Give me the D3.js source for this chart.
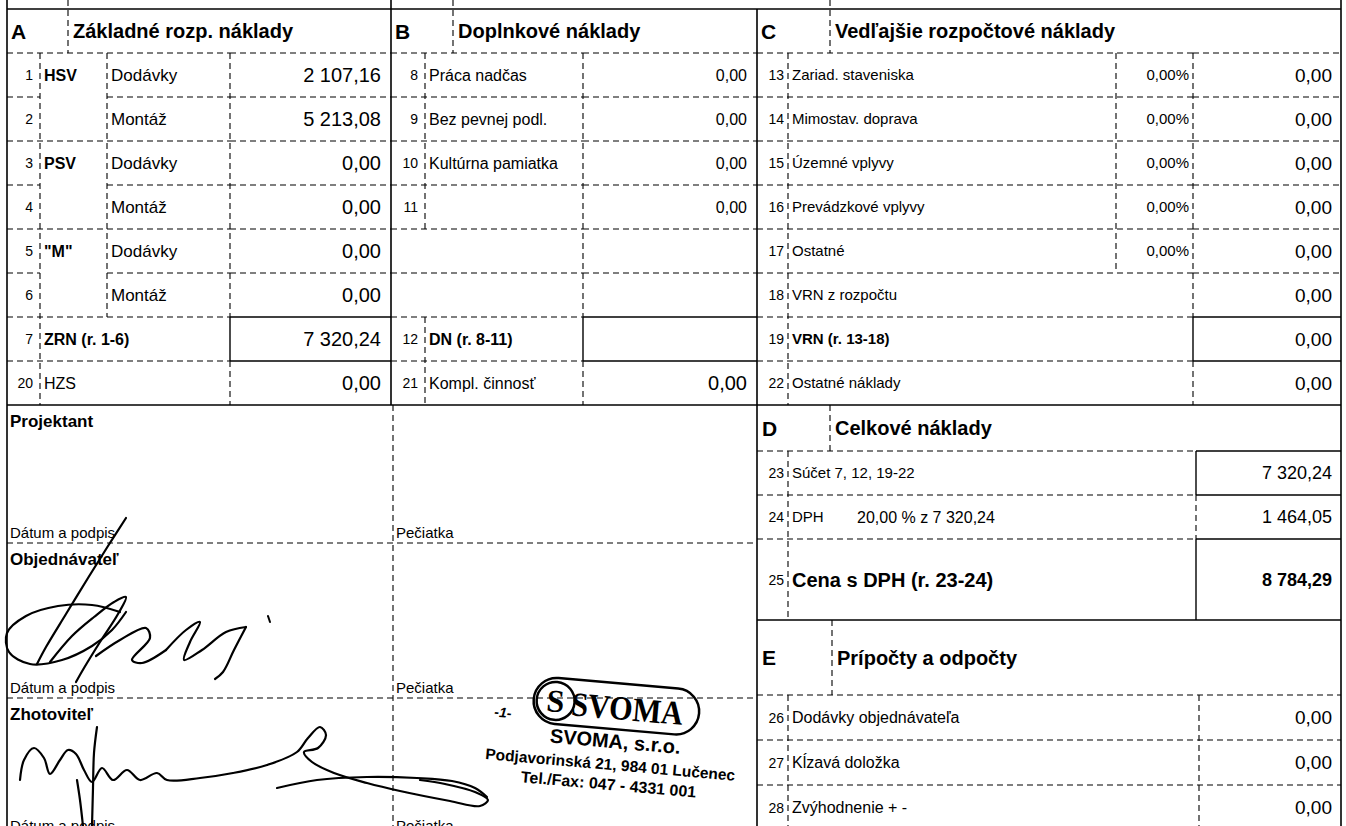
<!DOCTYPE html>
<html>
<head>
<meta charset="utf-8"/>
<script src="https://cdn.jsdelivr.net/npm/d3@7"></script>
<title>Krycí list rozpočtu</title>
<style>
body { margin:0; background:#fff; }
svg { display:block; font-family:"Liberation Sans", Arial, sans-serif; }
</style>
</head>
<body>
<script>
// A - zakladne rozpoctove naklady
var aNums   = ["1","2","3","4","5","6","7","20"];
var aGroups = ["HSV","","PSV","","\"M\"","","ZRN (r. 1-6)","HZS"];
var aLabels = ["Dodávky","Montáž","Dodávky","Montáž","Dodávky","Montáž","",""];
var aValues = [2107.16, 5213.08, 0, 0, 0, 0, 7320.24, 0];

// B - doplnkove naklady
var bNums   = ["8","9","10","11","","","12","21"];
var bLabels = ["Práca nadčas","Bez pevnej podl.","Kultúrna pamiatka","","","","DN (r. 8-11)","Kompl. činnosť"];
var bValues = [0, 0, 0, 0, null, null, null, 0];

// C - vedlajsie rozpoctove naklady
var cNums     = ["13","14","15","16","17","18","19","22"];
var cLabels   = ["Zariad. staveniska","Mimostav. doprava","Územné vplyvy","Prevádzkové vplyvy","Ostatné","VRN z rozpočtu","VRN (r. 13-18)","Ostatné náklady"];
var cPercents = [0, 0, 0, 0, 0, null, null, null];
var cValues   = [0, 0, 0, 0, 0, 0, 0, 0];

// D - celkove naklady
var dNums   = ["23","24","25"];
var dLabels = ["Súčet 7, 12, 19-22","DPH","Cena s DPH (r. 23-24)"];
var dValues = [7320.24, 1464.05, 8784.29];
var vatRate = 20;

// E - pripocty a odpocty
var eNums   = ["26","27","28"];
var eLabels = ["Dodávky objednávateľa","Kĺzavá doložka","Zvýhodnenie + -"];
var eValues = [0, 0, 0];

var headers    = [["A","Základné rozp. náklady"],["B","Doplnkové náklady"],["C","Vedľajšie rozpočtové náklady"],["D","Celkové náklady"],["E","Prípočty a odpočty"]];
var signBlocks = ["Projektant","Objednávateľ","Zhotoviteľ"];

var W = 1346, H = 826;
var loc = d3.formatLocale({decimal: ",", thousands: "\u00a0", grouping: [3], currency: ["", ""]});
var fmt = loc.format(",.2f");

var svg = d3.select("body").append("svg").attr("width", W).attr("height", H);
var gl = svg.append("g").attr("stroke", "#000").attr("fill", "none");
var gt = svg.append("g").attr("fill", "#000");

// rows of the upper table (0 = header)
var rowY = d3.scaleLinear().domain([0, 9]).range([9, 405]);
var rowH = rowY(1) - rowY(0);

function line(x1, y1, x2, y2, dash, w) {
  gl.append("line").attr("x1", x1).attr("y1", y1).attr("x2", x2).attr("y2", y2)
    .attr("stroke-width", w || (dash ? 1.1 : 1.4))
    .attr("stroke-dasharray", dash ? "6,4" : null);
}
function txt(x, y, s, size, bold, anchor) {
  return gt.append("text").attr("x", x).attr("y", y).text(s)
    .attr("font-size", size).attr("font-weight", bold ? "bold" : "normal")
    .attr("text-anchor", anchor || "start");
}
function base(top, h, size) { return top + h / 2 + size * 0.36; }

// outer frame
line(7, 0, 7, H, false, 1.6);
line(1341, 0, 1341, H, false, 1.6);
line(757, 9, 757, H, false, 1.6);
line(391, 0, 391, rowY(9), false, 1.6);
line(7, rowY(0), 1341, rowY(0), false, 1.4);
line(7, rowY(9), 1341, rowY(9), false, 1.4);

// headers A B C
[[7, 68], [391, 453], [757, 830]].forEach(function(p, i) {
  txt(p[0] + 4, base(rowY(0), rowH, 21), headers[i][0], 21, true);
  line(p[1], 0, p[1], rowY(1), true);
  txt(p[1] + 5, base(rowY(0), rowH, 20), headers[i][1], 20, true);
});

// ---- A ----
aNums.forEach(function(n, i) {
  var top = rowY(i + 1);
  var merged = (i % 2 === 1 && i < 6);
  if (merged) { line(7, top, 40, top, true); line(107, top, 230, top, true); }
  else line(7, top, 230, top, true);
  line(230, top, 391, top, !(i === 6 || i === 7));
  txt(33, base(top, rowH, 14), n, 14, false, "end");
  txt(44, base(top, rowH, 16), aGroups[i], 16, i < 7);
  txt(111, base(top, rowH, 17), aLabels[i], 17, false);
  txt(381, base(top, rowH, 20), fmt(aValues[i]), 20, false, "end");
});
line(40, rowY(1), 40, rowY(9), true);
line(107, rowY(1), 107, rowY(7), true);
line(230, rowY(1), 230, rowY(7), true);
line(230, rowY(7), 230, rowY(8), false);
line(230, rowY(8), 230, rowY(9), true);

// ---- B ----
bNums.forEach(function(n, i) {
  var top = rowY(i + 1);
  line(391, top, 583, top, true);
  line(583, top, 757, top, !(i === 6 || i === 7));
  txt(418, base(top, rowH, 14), n, 14, false, "end");
  txt(429, base(top, rowH, 16), bLabels[i], 16, i === 6);
  if (bValues[i] !== null) {
    var s = i === 7 ? 20 : 16;
    txt(747, base(top, rowH, s), fmt(bValues[i]), s, false, "end");
  }
});
line(425, rowY(1), 425, rowY(5), true);
line(425, rowY(7), 425, rowY(9), true);
line(583, rowY(1), 583, rowY(7), true);
line(583, rowY(7), 583, rowY(8), false);
line(583, rowY(8), 583, rowY(9), true);

// ---- C ----
cNums.forEach(function(n, i) {
  var top = rowY(i + 1);
  line(757, top, 1193, top, true);
  line(1193, top, 1341, top, !(i === 6 || i === 7));
  txt(784, base(top, rowH, 14), n, 14, false, "end");
  txt(792, base(top, rowH, 15), cLabels[i], 15, i === 6);
  if (cPercents[i] !== null) txt(1189, base(top, rowH, 15), fmt(cPercents[i]) + "%", 15, false, "end");
  txt(1332, base(top, rowH, 19), fmt(cValues[i]), 19, false, "end");
});
line(788, rowY(1), 788, rowY(9), true);
line(1116, rowY(1), 1116, rowY(6), true);
line(1193, rowY(1), 1193, rowY(7), true);
line(1193, rowY(7), 1193, rowY(8), false);
line(1193, rowY(8), 1193, rowY(9), true);

// ---- D ----
var dTop = rowY(9), dHead = 46;
var dRowY = d3.scaleOrdinal().domain(dNums).range([451, 495, 539]);
var dRowH = [44, 44, 81];
txt(762, base(dTop, dHead, 21), headers[3][0], 21, true);
line(830, dTop, 830, dTop + dHead, true);
txt(835, base(dTop, dHead, 20), headers[3][1], 20, true);
dNums.forEach(function(n, i) {
  var top = dRowY(n), h = dRowH[i];
  line(757, top, 1196, top, true);
  line(1196, top, 1341, top, false);
  line(1196, top, 1196, top + h, i === 1);
  txt(784, base(top, h, 14), n, 14, false, "end");
  if (i === 1) {
    txt(792, base(top, h, 15), dLabels[i], 15, false);
    txt(857, base(top, h, 16), loc.format(".2f")(vatRate) + " % z  " + fmt(dValues[0]), 16, false);
  } else {
    txt(792, base(top, h, i === 2 ? 20 : 15), dLabels[i], i === 2 ? 20 : 15, i === 2);
  }
  txt(1332, base(top, h, 18), fmt(dValues[i]), 18, i === 2, "end");
});
var dBottom = dRowY(dNums[2]) + dRowH[2];
line(788, dRowY(dNums[0]), 788, dBottom, true);
line(757, dBottom, 1341, dBottom, false);

// ---- E ----
var eHead = 75;
var eRowY = d3.scaleLinear().domain([0, 3]).range([dBottom + eHead, dBottom + eHead + 135]);
txt(762, base(dBottom, eHead, 21), headers[4][0], 21, true);
line(832, dBottom, 832, dBottom + eHead, true);
txt(837, base(dBottom, eHead, 20), headers[4][1], 20, true);
eNums.forEach(function(n, i) {
  var top = eRowY(i);
  line(757, top, 1341, top, true);
  txt(784, base(top, 45, 14), n, 14, false, "end");
  txt(792, base(top, 45, 16), eLabels[i], 16, false);
  txt(1332, base(top, 45, 19), fmt(eValues[i]), 19, false, "end");
});
line(788, eRowY(0), 788, eRowY(3), true);
line(1199, eRowY(0), 1199, eRowY(3), true);

// ---- podpisy ----
var blockTop = [rowY(9), 543, 698, 836];
line(393, rowY(9), 393, H, true);
signBlocks.forEach(function(name, i) {
  var top = blockTop[i], next = blockTop[i + 1];
  if (i > 0) line(7, top, 757, top, true);
  txt(10, top + 22, name, 17, true);
  txt(10, next - 5, "Dátum a podpis", 15, false);
  txt(396, next - 5, "Pečiatka", 15, false);
});

// signatures (hand strokes)
var sigObj = [
  [[126,518],[108,546],[88,578],[66,614],[46,647],[37,664]],
  [[120,612],[92,605],[58,606],[26,616],[7,633],[9,652],[30,664],[62,660],[92,646],[112,630],[126,612]],
  [[50,662],[72,636],[94,617],[114,602],[126,597],[118,614],[100,642],[84,668],[76,682]],
  [[96,656],[120,640],[146,628],[150,638],[132,660],[142,663],[166,650]],
  [[166,650],[186,630],[200,622],[190,642],[184,660],[202,650],[226,632],[246,627]],
  [[246,627],[234,650],[223,672],[215,679]]
];
var sigZho = [
  [[20,780],[24,760],[34,748],[44,758],[50,774],[60,760],[68,750],[76,754],[84,770],[92,782],[102,768],[113,780],[127,770],[140,780],[157,773],[167,780],[200,778],[233,773],[267,765],[297,752],[308,738],[320,727],[326,735],[318,748],[304,752],[312,762],[334,773],[367,783],[400,791],[450,801],[480,806],[488,800],[475,792],[445,784],[420,780]],
  [[277,788],[317,780],[367,777],[417,778],[452,781],[475,788],[487,797]],
  [[97,727],[94,753],[93,788],[92,826]],
  [[77,780],[80,800],[83,826]]
];
var sline = d3.line().curve(d3.curveCatmullRom.alpha(0.5));
var gs = svg.append("g").attr("fill", "none").attr("stroke", "#000").attr("stroke-linecap", "round");
sigObj.concat(sigZho).forEach(function(p) { gs.append("path").attr("d", sline(p)).attr("stroke-width", 2.2); });
gs.append("path").attr("d", "M268,616 L270,622").attr("stroke-width", 2);

// stamp
var st = svg.append("g").attr("transform", "translate(612,745) rotate(5)");
st.append("rect").attr("x", -82).attr("y", -62).attr("width", 166).attr("height", 46).attr("rx", 23)
  .attr("fill", "none").attr("stroke", "#000").attr("stroke-width", 2.5);
st.append("circle").attr("cx", -60).attr("cy", -39).attr("r", 19)
  .attr("fill", "none").attr("stroke", "#000").attr("stroke-width", 2.5);
st.append("text").attr("x", -60).attr("y", -28).attr("text-anchor", "middle")
  .attr("font-family", "'Liberation Serif', serif").attr("font-weight", "bold").attr("font-size", 32).text("S");
st.append("text").attr("x", 12).attr("y", -26).attr("text-anchor", "middle")
  .attr("font-family", "'Liberation Serif', serif").attr("font-weight", "bold").attr("font-size", 34)
  .attr("textLength", 112).attr("lengthAdjust", "spacingAndGlyphs").text("SVOMA");
st.append("text").attr("x", -120).attr("y", -18).attr("font-size", 14).attr("font-weight", "bold")
  .attr("font-style", "italic").text("-1-");
st.append("text").attr("x", 3).attr("y", 3).attr("text-anchor", "middle").attr("font-size", 20)
  .attr("font-weight", "bold").text("SVOMA, s.r.o.");
st.append("text").attr("x", 0).attr("y", 25).attr("text-anchor", "middle").attr("font-size", 15.5)
  .attr("font-weight", "bold").text("Podjavorinská 21, 984 01 Lučenec");
st.append("text").attr("x", 0).attr("y", 45).attr("text-anchor", "middle").attr("font-size", 16)
  .attr("font-weight", "bold").text("Tel./Fax: 047 - 4331 001");
</script>
</body>
</html>
